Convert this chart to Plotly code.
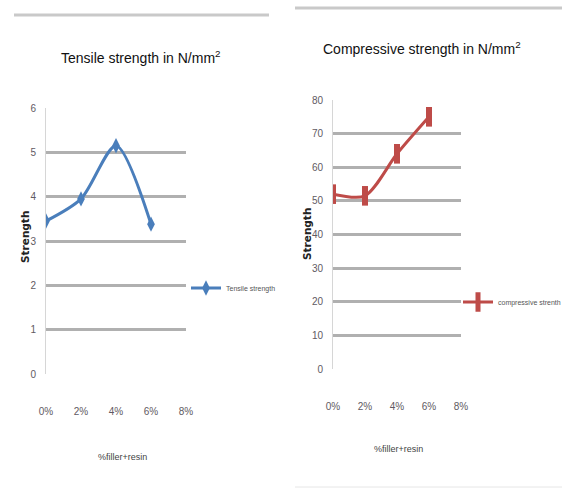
import plotly.graph_objects as go

# Filler content (% of filler + resin) and measured strengths
filler_pct = [0, 2, 4, 6]
tick_pct = [0, 2, 4, 6, 8]
tick_labels = ["0%", "2%", "4%", "6%", "8%"]

tensile_strength = [3.45, 3.95, 5.15, 3.38]
compressive_strength = [52, 51.5, 64, 75]

tensile_ticks = [0, 1, 2, 3, 4, 5, 6]
compressive_ticks = [0, 10, 20, 30, 40, 50, 60, 70, 80]

W, H = 562, 488
FONT = "Liberation Sans, Arial, sans-serif"
BLUE = "#4a7ebb"
RED = "#be4b48"
GRID = "#b0b0b0"
TICK = "#5f5a62"


def px(x):
    return x / W


def py(y):
    return 1 - y / H


fig = go.Figure()

fig.add_trace(go.Scatter(
    x=filler_pct, y=tensile_strength, name="Tensile strength",
    mode="lines+markers", xaxis="x", yaxis="y", legend="legend",
    line=dict(color=BLUE, width=3, shape="spline", smoothing=0.8),
    marker=dict(symbol="diamond-tall", size=11, color=BLUE),
))
fig.add_trace(go.Scatter(
    x=filler_pct, y=compressive_strength, name="compressive strenth",
    mode="lines+markers", xaxis="x2", yaxis="y2", legend="legend2",
    line=dict(color=RED, width=3, shape="spline", smoothing=0.8),
    marker=dict(symbol="line-ns", size=14, color=RED,
                line=dict(color=RED, width=6)),
))

xaxis_common = dict(
    range=[0, 8], tickvals=tick_pct, ticktext=tick_labels,
    showgrid=False, zeroline=False, showline=False, ticks="",
    tickfont=dict(family=FONT, size=10, color=TICK),
    ticklabelstandoff=30, fixedrange=True,
)
yaxis_common = dict(
    showgrid=True, gridcolor=GRID, gridwidth=2.5, zeroline=False,
    showline=True, linecolor="#d6d6d6", linewidth=1, ticks="",
    tickfont=dict(family=FONT, size=10, color=TICK),
    ticklabelstandoff=7, fixedrange=True,
)

fig.update_layout(
    width=W, height=H,
    margin=dict(l=0, r=0, t=0, b=0, autoexpand=False),
    paper_bgcolor="white", plot_bgcolor="white",
    xaxis=dict(domain=[px(46), px(186)], anchor="y", **xaxis_common),
    yaxis=dict(domain=[py(374), py(108)], anchor="x", range=[0, 6],
               tickvals=tensile_ticks, **yaxis_common),
    xaxis2=dict(domain=[px(333), px(461)], anchor="y2", **xaxis_common),
    yaxis2=dict(domain=[py(369), py(100)], anchor="x2", range=[0, 80],
                tickvals=compressive_ticks, **yaxis_common),
    legend=dict(x=px(186), y=py(288), xanchor="left", yanchor="middle",
                font=dict(family=FONT, size=7, color="#555"),
                itemwidth=30, bgcolor="rgba(0,0,0,0)"),
    legend2=dict(x=px(458), y=py(302), xanchor="left", yanchor="middle",
                 font=dict(family=FONT, size=7, color="#555"),
                 itemwidth=30, bgcolor="rgba(0,0,0,0)"),
    showlegend=True,
)

# Panel separators
fig.add_shape(type="line", xref="paper", yref="paper",
              x0=px(14), x1=px(269), y0=py(15), y1=py(15),
              line=dict(color="#c9c9c9", width=3))
fig.add_shape(type="line", xref="paper", yref="paper",
              x0=px(295), x1=1, y0=py(8), y1=py(8),
              line=dict(color="#c9c9c9", width=3))
fig.add_shape(type="line", xref="paper", yref="paper",
              x0=px(295), x1=1, y0=py(487), y1=py(487),
              line=dict(color="#e6e6e6", width=1))

titles = [
    ("Tensile strength in N/mm<sup>2</sup>", 141, 57),
    ("Compressive strength in N/mm<sup>2</sup>", 422, 48),
]
for text, x, y in titles:
    fig.add_annotation(text=text, x=px(x), y=py(y), xref="paper", yref="paper",
                       showarrow=False, xanchor="center", yanchor="middle",
                       font=dict(family=FONT, size=14, color="#111"))

for x, y in ((122, 457), (398, 449)):
    fig.add_annotation(text="%filler+resin", x=px(x), y=py(y),
                       xref="paper", yref="paper", showarrow=False,
                       xanchor="center", yanchor="middle",
                       font=dict(family=FONT, size=9, color="#444"))

for x, y in ((25, 237), (307, 234)):
    fig.add_annotation(text="<b>Strength</b>", x=px(x), y=py(y),
                       xref="paper", yref="paper", showarrow=False,
                       xanchor="center", yanchor="middle", textangle=-90,
                       font=dict(family="DejaVu Sans", size=10.5, color="#222"))

fig.write_html("out.html")
